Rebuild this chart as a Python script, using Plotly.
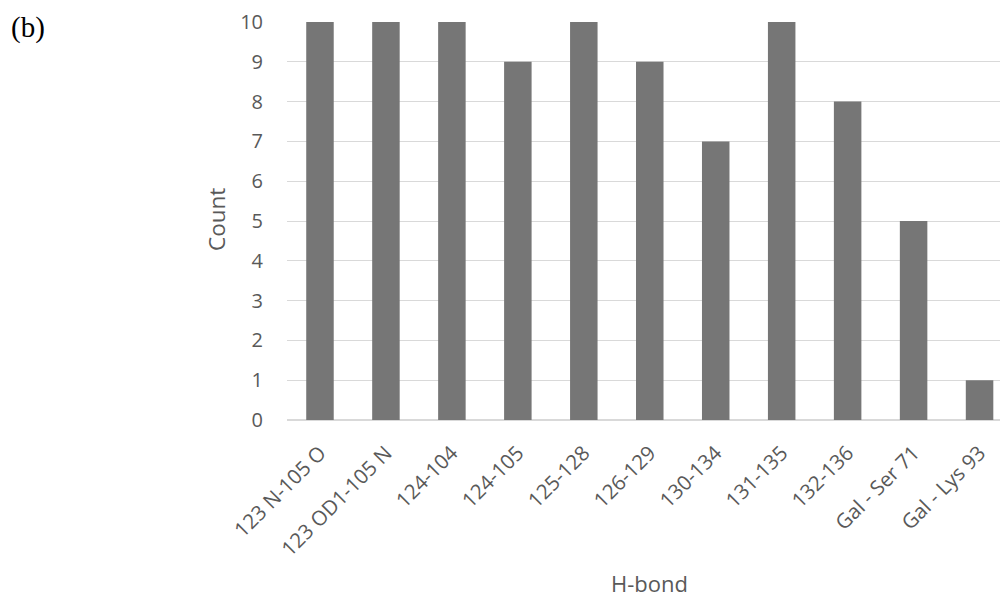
import plotly.graph_objects as go

# H-bond occurrence counts
bonds = ["123 N-105 O", "123 OD1-105 N", "124-104", "124-105", "125-128",
         "126-129", "130-134", "131-135", "132-136", "Gal - Ser 71", "Gal - Lys 93"]
counts = [10, 10, 10, 9, 10, 9, 7, 10, 8, 5, 1]
y_ticks = list(range(0, 11))

TEXT_GRAY = "#595959"
GRID = "#d9d9d9"
BAR = "#767676"
FONT = "Open Sans"

fig = go.Figure(
    go.Bar(
        x=list(range(len(bonds))),
        y=counts,
        marker=dict(color=BAR, line=dict(width=0)),
        width=0.417,
    )
)

fig.update_layout(
    width=1000,
    height=600,
    margin=dict(l=287, r=0, t=22, b=180, pad=0),
    paper_bgcolor="white",
    plot_bgcolor="white",
    showlegend=False,
    font=dict(family=FONT, color=TEXT_GRAY, size=20),
    xaxis=dict(
        tickmode="array",
        tickvals=list(range(len(bonds))),
        ticktext=bonds,
        tickangle=-45,
        range=[-0.5, 10.31],
        showgrid=False,
        showline=False,
        zeroline=False,
        ticks="",
        ticklabelstandoff=16,
        tickfont=dict(family=FONT, size=20.5, color=TEXT_GRAY),
        automargin=False,
    ),
    yaxis=dict(
        range=[0, 10],
        tickmode="array",
        tickvals=y_ticks,
        showgrid=True,
        gridcolor=GRID,
        gridwidth=1.3,
        zeroline=True,
        zerolinecolor=GRID,
        zerolinewidth=1.5,
        showline=False,
        ticks="",
        ticklabelstandoff=23,
        tickfont=dict(family=FONT, size=20, color=TEXT_GRAY),
        automargin=False,
    ),
    annotations=[
        dict(text="Count", x=216, y=220, showarrow=False, textangle=-90,
             font=dict(family=FONT, size=22.5, color=TEXT_GRAY)),
        dict(text="H-bond", x=649, y=583, showarrow=False,
             font=dict(family=FONT, size=22, color=TEXT_GRAY)),
        dict(text="(b)", x=28, y=28, showarrow=False,
             font=dict(family="Liberation Serif", size=29, color="black")),
    ],
)

# Place free-floating labels in pixel coordinates of the 1000x600 page
plot_l, plot_r, plot_t, plot_b = 287, 1000, 22, 420
for ann in fig.layout.annotations:
    ann.xref = "paper"
    ann.yref = "paper"
    ann.x = (ann.x - plot_l) / (plot_r - plot_l)
    ann.y = (plot_b - ann.y) / (plot_b - plot_t)
    ann.xanchor = "center"
    ann.yanchor = "middle"

fig.write_html("out.html")
